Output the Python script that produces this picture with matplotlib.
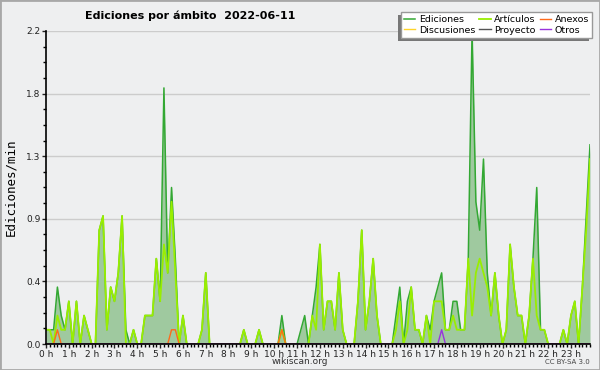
import numpy as np
import matplotlib
matplotlib.use('Agg')
import matplotlib.pyplot as plt
from matplotlib.patches import Rectangle

# edits per minute, one value per 10-minute bin (6 per hour)
ediciones = [
    0.1, 0.1, 0.1, 0.4, 0.2, 0.1,
    0.3, 0, 0.3, 0, 0.2, 0.1,
    0, 0, 0.8, 0.9, 0.1, 0.4,
    0.3, 0.5, 0.9, 0.1, 0, 0.1,
    0, 0, 0.2, 0.2, 0.2, 0.6,
    0.3, 1.8, 0.5, 1.1, 0.6, 0,
    0.2, 0, 0, 0, 0, 0.1,
    0.5, 0, 0, 0, 0, 0,
    0, 0, 0, 0, 0.1, 0,
    0, 0, 0.1, 0, 0, 0,
    0, 0, 0.2, 0, 0, 0,
    0, 0.1, 0.2, 0, 0.2, 0.4,
    0.7, 0.1, 0.3, 0.3, 0.1, 0.5,
    0.1, 0, 0, 0, 0.3, 0.8,
    0.1, 0.3, 0.6, 0.2, 0, 0,
    0, 0, 0.2, 0.4, 0, 0.3,
    0.4, 0.1, 0.1, 0, 0.2, 0.1,
    0.3, 0.4, 0.5, 0.1, 0.1, 0.3,
    0.3, 0.1, 0.1, 0.6, 2.2, 1.0,
    0.8, 1.3, 0.5, 0.2, 0.5, 0.2,
    0, 0.1, 0.7, 0.4, 0.2, 0.2,
    0, 0.2, 0.6, 1.1, 0.1, 0.1,
    0, 0, 0, 0, 0.1, 0,
    0.2, 0.3, 0, 0.4, 0.9, 1.4,
]
articulos = [
    0.1, 0.1, 0, 0.2, 0.1, 0.1,
    0.3, 0, 0.3, 0, 0.2, 0.1,
    0, 0, 0.8, 0.9, 0.1, 0.4,
    0.3, 0.5, 0.9, 0, 0, 0.1,
    0, 0, 0.2, 0.2, 0.2, 0.6,
    0.3, 0.7, 0.5, 1.0, 0.5, 0,
    0.2, 0, 0, 0, 0, 0.1,
    0.5, 0, 0, 0, 0, 0,
    0, 0, 0, 0, 0.1, 0,
    0, 0, 0.1, 0, 0, 0,
    0, 0, 0.1, 0, 0, 0,
    0, 0, 0, 0, 0.2, 0.1,
    0.7, 0.1, 0.3, 0.3, 0.1, 0.5,
    0.1, 0, 0, 0, 0.3, 0.8,
    0.1, 0.3, 0.6, 0.2, 0, 0,
    0, 0, 0.1, 0.3, 0, 0.1,
    0.4, 0.1, 0.1, 0, 0.2, 0,
    0.3, 0.3, 0.3, 0.1, 0.1, 0.2,
    0.1, 0.1, 0.1, 0.6, 0.2, 0.5,
    0.6, 0.5, 0.4, 0.2, 0.5, 0.2,
    0, 0.1, 0.7, 0.4, 0.2, 0.2,
    0, 0.2, 0.6, 0.2, 0.1, 0.1,
    0, 0, 0, 0, 0.1, 0,
    0.2, 0.3, 0, 0.4, 0.8, 1.3,
]
# sparse series: {bin index: value}
anexos = {3: 0.1, 33: 0.1, 34: 0.1, 62: 0.1}
otros = {104: 0.1}
discusiones = {}
proyecto = {}

hour_labels = [f'{h} h' for h in range(24)]

n = len(ediciones)
x = np.arange(n) / 6.0


def dense(d):
    v = np.zeros(n)
    for k, val in d.items():
        v[k] = val
    return v


bg = '#eeeff0'
fig = plt.figure(figsize=(6, 3.7), dpi=100, facecolor=bg)
ax = fig.add_axes([46 / 600, 1 - 344 / 370, 544 / 600, 313 / 370])
ax.set_facecolor(bg)

ax.fill_between(x, ediciones, 0, color='#9fc99f', lw=0)
ax.plot(x, dense(discusiones), color='#ffd42a', lw=1, label='Discusiones')
ax.plot(x, dense(proyecto), color='#555555', lw=1, label='Proyecto')
ax.plot(x, ediciones, color='#33a833', lw=1.1, label='Ediciones')
ax.plot(x, articulos, color='#99ee00', lw=1.3, label='Artículos')
ax.plot(x, dense(anexos), color='#ff6a1a', lw=1, label='Anexos')
ax.plot(x, dense(otros), color='#9933dd', lw=1, label='Otros')

ax.set_xlim(0, x[-1])
ax.set_ylim(0, 2.2)

yt = np.linspace(0, 2.2, 6)
ax.set_yticks(yt)
ax.set_yticklabels([f'{v:.1f}' for v in yt])
ax.set_yticks(np.linspace(0, 2.2, 21), minor=True)
ax.set_xticks(range(24))
ax.set_xticklabels(hour_labels)
ax.set_xticks(np.arange(0, x[-1] + 0.01, 1 / 6), minor=True)
ax.tick_params(labelsize=6.5, colors='#222222', pad=1)
ax.tick_params(which='major', length=3, width=1)
ax.tick_params(which='minor', length=2.5, width=1)
ax.grid(axis='y', color='#cccccc', lw=1)
ax.set_axisbelow(True)
for s in ['top', 'right']:
    ax.spines[s].set_visible(False)
for s in ['left', 'bottom']:
    ax.spines[s].set_linewidth(1.2)

ax.set_ylabel('Ediciones/min', family='DejaVu Sans Mono', fontsize=9, labelpad=6)

h, l = ax.get_legend_handles_labels()
order = ['Ediciones', 'Discusiones', 'Artículos', 'Proyecto', 'Anexos', 'Otros']
hd = dict(zip(l, h))
leg = fig.legend([hd[k] for k in order], order, ncol=3, loc='upper right',
                 bbox_to_anchor=(592 / 600, 1 - 12 / 370), fontsize=6.8,
                 frameon=True, fancybox=False, edgecolor='#999999', framealpha=1,
                 handlelength=1.2, handletextpad=0.4, columnspacing=0.4,
                 labelspacing=0.2, borderpad=0.3, borderaxespad=0)

# drop shadow to the lower left of the legend box
fig.canvas.draw()
bb = leg.get_frame().get_window_extent()
fig.patches.append(Rectangle((bb.x0 - 3, bb.y0 - 3), bb.width, bb.height, transform=None,
                             facecolor='#777777', edgecolor='none', zorder=4))

fig.text(85 / 600, 1 - 16 / 370, 'Ediciones por ámbito  2022-06-11',
         fontsize=8, fontweight='bold', ha='left', va='center')
fig.text(0.5, 1 - 362 / 370, 'wikiscan.org', fontsize=6.5, ha='center', va='center', color='#333333')
fig.text(590 / 600, 1 - 362 / 370, 'CC BY-SA 3.0', fontsize=5, ha='right', va='center', color='#444444')

fig.patches.append(Rectangle((0, 0), 1, 1, transform=fig.transFigure, fill=False,
                             edgecolor='#a8a8a8', lw=2))

fig.savefig('out.png', dpi=100, facecolor=bg)
